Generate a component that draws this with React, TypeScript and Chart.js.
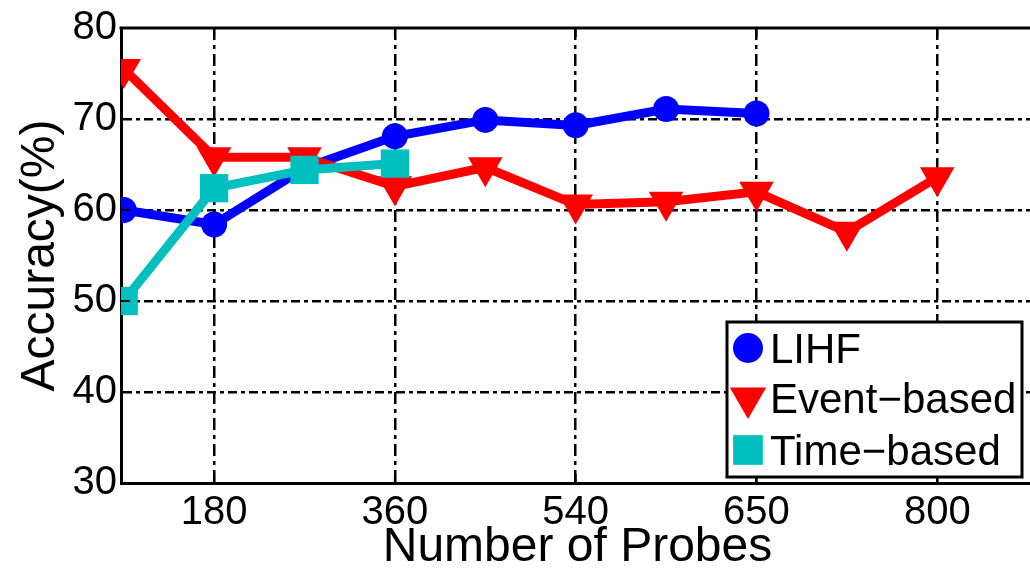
import React, { useEffect, useRef } from 'react';
import { Chart, registerables } from 'chart.js';

Chart.register(...registerables);

// x positions are category indices; only odd ones carry a printed label
const xTickLabels = ['', '180', '', '360', '', '540', '', '650', '', '800'];
const lihfX = [0, 1, 2, 3, 4, 5, 6, 7];
const lihfY = [60.0, 58.4, 64.6, 68.1, 69.9, 69.3, 71.1, 70.6];
const eventX = [0, 1, 2, 3, 4, 5, 6, 7, 8, 9];
const eventY = [75.5, 65.8, 65.8, 62.6, 64.7, 60.6, 60.9, 62.0, 57.6, 63.6];
const timeX = [0, 1, 2, 3];
const timeY = [50.0, 62.4, 64.4, 65.1];
const seriesNames = ['LIHF', 'Event\u2212based', 'Time\u2212based'];
const yMin = 30;
const yMax = 80;
const yStep = 10;

const FONT = '"Liberation Sans", Arial, sans-serif';
const BLUE = '#0000FF';
const RED = '#FF0000';
const TEAL = '#00BFBF';
const CW = 1054;

function drawMarker(ctx: CanvasRenderingContext2D, style: string, x: number, y: number, r: number, color: string) {
  ctx.save();
  ctx.fillStyle = color;
  ctx.beginPath();
  if (style === 'circle') {
    ctx.arc(x, y, r, 0, Math.PI * 2);
  } else if (style === 'triangle') {
    const a0 = Math.PI;
    for (let k = 0; k < 3; k++) {
      const a = a0 + (k * 2 * Math.PI) / 3;
      const px = x + Math.sin(a) * r;
      const py = y - Math.cos(a) * r;
      if (k === 0) ctx.moveTo(px, py);
      else ctx.lineTo(px, py);
    }
    ctx.closePath();
  } else {
    const s = Math.SQRT1_2 * r;
    ctx.rect(x - s, y - s, 2 * s, 2 * s);
  }
  ctx.fill();
  ctx.restore();
}

const framePlugin = {
  id: 'framePlugin',
  afterDraw(chart: any) {
    const ctx: CanvasRenderingContext2D = chart.ctx;
    const { left, right, top, bottom } = chart.chartArea;
    const xs = chart.scales.x;
    const ys = chart.scales.y;
    ctx.save();
    ctx.strokeStyle = '#000';
    ctx.setLineDash([]);
    ctx.lineWidth = 3;
    ctx.beginPath();
    ctx.moveTo(left - 1.5, top);
    ctx.lineTo(right + 2, top);
    ctx.stroke();
    ctx.lineWidth = 2;
    ys.ticks.forEach((t: any) => {
      const py = ys.getPixelForValue(t.value);
      ctx.beginPath();
      ctx.moveTo(left, py);
      ctx.lineTo(left + 9, py);
      ctx.stroke();
    });
    xs.ticks.forEach((t: any) => {
      const px = xs.getPixelForValue(t.value);
      ctx.beginPath();
      ctx.moveTo(px, bottom);
      ctx.lineTo(px, bottom - 9);
      ctx.stroke();
      ctx.beginPath();
      ctx.moveTo(px, top);
      ctx.lineTo(px, top + 9);
      ctx.stroke();
    });
    // legend
    const bx = 727, by = 322, bw = 295, bh = 155;
    ctx.fillStyle = '#fff';
    ctx.fillRect(bx, by, bw, bh);
    ctx.lineWidth = 3;
    ctx.strokeRect(bx, by, bw, bh);
    const styles = ['circle', 'triangle', 'rect'];
    const colors = [BLUE, RED, TEAL];
    const radii = [15, 21, 21];
    const markerY = [348, 398, 450];
    const baseY = [363, 413, 465];
    ctx.font = `42px ${FONT}`;
    ctx.textBaseline = 'alphabetic';
    ctx.textAlign = 'left';
    for (let i = 0; i < 3; i++) {
      drawMarker(ctx, styles[i], 748, markerY[i], radii[i], colors[i]);
      ctx.fillStyle = '#000';
      ctx.fillText(seriesNames[i], 770, baseY[i]);
    }
    ctx.restore();
  },
};

export default function App() {
  const canvasRef = useRef<HTMLCanvasElement | null>(null);

  useEffect(() => {
    document.body.style.margin = '0';
    document.body.style.overflow = 'hidden';
    const canvas = canvasRef.current;
    if (!canvas) return;
    const toPts = (xs: number[], ys: number[]) => xs.map((x, i) => ({ x, y: ys[i] }));
    const labeled = xTickLabels.map((l, i) => (l ? i : -1)).filter((i) => i >= 0);

    const chart = new Chart(canvas, {
      type: 'line',
      data: {
        datasets: [
          {
            label: seriesNames[0],
            data: toPts(lihfX, lihfY),
            borderColor: BLUE,
            backgroundColor: BLUE,
            borderWidth: 9,
            pointStyle: 'circle',
            pointRadius: 13,
            pointBorderWidth: 0,
            order: 2,
          },
          {
            label: seriesNames[1],
            data: toPts(eventX, eventY),
            borderColor: RED,
            backgroundColor: RED,
            borderWidth: 9,
            pointStyle: 'triangle',
            pointRotation: 180,
            pointRadius: 20,
            pointBorderWidth: 0,
            order: 1,
          },
          {
            label: seriesNames[2],
            data: toPts(timeX, timeY),
            borderColor: TEAL,
            backgroundColor: TEAL,
            borderWidth: 9,
            pointStyle: 'rect',
            pointRadius: 20,
            pointBorderWidth: 0,
            order: 0,
          },
        ],
      },
      options: {
        responsive: false,
        animation: false,
        devicePixelRatio: 1,
        layout: { padding: { top: 24, right: 1, left: 0, bottom: 0 } },
        plugins: { legend: { display: false }, tooltip: { enabled: false } },
        elements: { line: { tension: 0 } },
        scales: {
          x: {
            type: 'linear',
            min: -0.03,
            max: 10.07,
            afterBuildTicks: (s: any) => {
              s.ticks = labeled.map((v) => ({ value: v }));
            },
            afterFit: (s: any) => {
              s.height = 89;
            },
            ticks: {
              autoSkip: false,
              maxRotation: 0,
              color: '#000',
              font: { family: FONT, size: 40 },
              padding: 6,
              callback: (v: any) => xTickLabels[v] ?? '',
            },
            grid: { color: '#000', lineWidth: 2.5, drawTicks: false },
            border: { display: true, color: '#000', width: 3, dash: [12, 5, 4, 5] },
            title: {
              display: true,
              text: 'Number of Probes',
              color: '#000',
              font: { family: FONT, size: 48, lineHeight: 1 },
              padding: 0,
            },
          },
          y: {
            min: yMin,
            max: yMax,
            afterFit: (s: any) => {
              s.width = 121;
            },
            ticks: {
              stepSize: yStep,
              color: '#000',
              font: { family: FONT, size: 40 },
              padding: 4,
            },
            grid: {
              color: (c: any) => (c.tick && (c.tick.value === yMin || c.tick.value === yMax) ? 'rgba(0,0,0,0)' : '#000'),
              lineWidth: 2.5,
              drawTicks: false,
            },
            border: { display: true, color: '#000', width: 3, dash: [9, 4, 4, 4] },
            title: {
              display: true,
              text: 'Accuracy(%)',
              color: '#000',
              font: { family: FONT, size: 48, lineHeight: 1.2 },
              padding: { top: 12, bottom: 0 },
            },
          },
        },
      },
      plugins: [framePlugin],
    } as any);
    return () => chart.destroy();
  }, []);

  return (
    <div style={{ position: 'fixed', left: 0, top: 0, width: CW, height: 572, background: '#fff' }}>
      <canvas ref={canvasRef} width={CW} height={572} />
    </div>
  );
}
